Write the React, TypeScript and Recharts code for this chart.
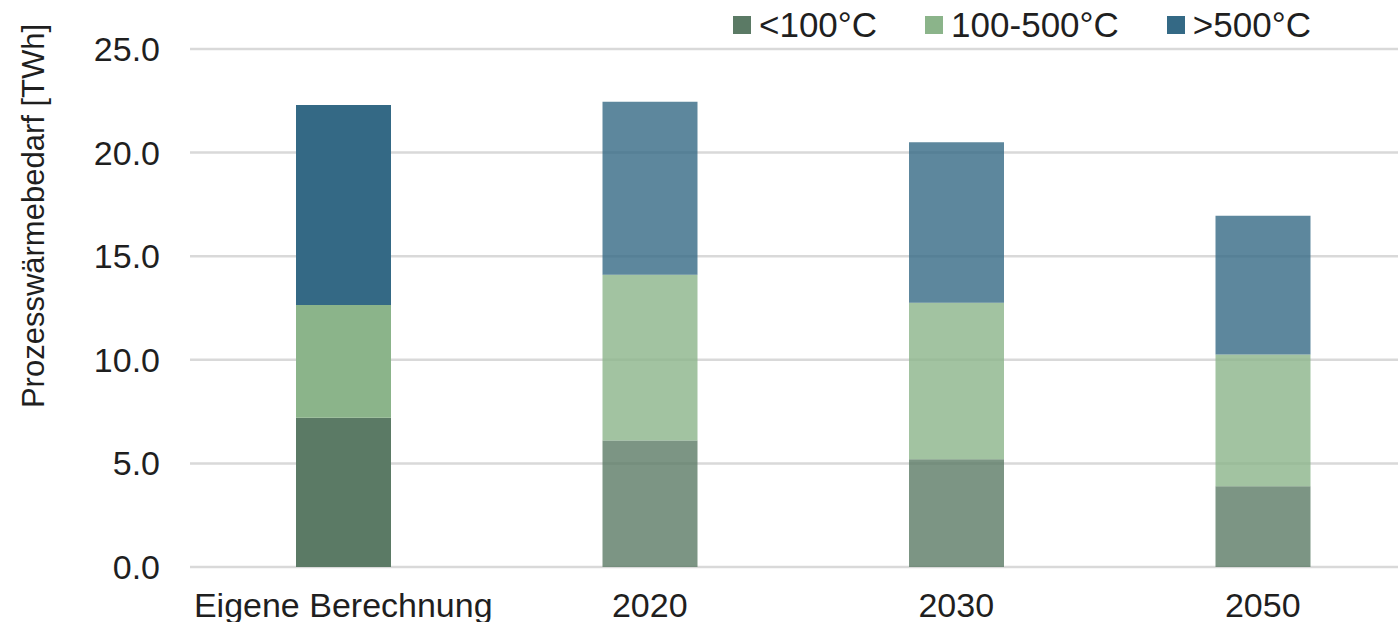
import React from "react";
import { BarChart, Bar, XAxis, YAxis, CartesianGrid, Legend, Cell } from "recharts";

const categories = ["Eigene Berechnung", "2020", "2030", "2050"];
const below100 = [7.2, 6.1, 5.2, 3.9];
const from100to500 = [5.45, 8.0, 7.55, 6.35];
const above500 = [9.65, 8.35, 7.75, 6.7];
const yTicks = [0, 5, 10, 15, 20, 25];

const seriesNames = ["<100°C", "100-500°C", ">500°C"];
const seriesColors = ["#5b7a65", "#8bb48a", "#346985"];

const data = categories.map((name, i) => ({
  name,
  low: below100[i],
  mid: from100to500[i],
  high: above500[i],
}));

const FONT = "'Liberation Sans', Arial, sans-serif";
const TEXT = "#1f1f1f";

// keep the series order instead of the legend's alphabetical sort
const LegendContent = (props: any) => {
  const payload = [...(props.payload || [])].sort(
    (a: any, b: any) => seriesNames.indexOf(a.value) - seriesNames.indexOf(b.value)
  );
  return (
    <div style={{ display: "flex", alignItems: "center", fontFamily: FONT, fontSize: 35, color: TEXT }}>
      {payload.map((entry: any, i: number) => (
        <div key={i} style={{ display: "flex", alignItems: "center", marginRight: i < payload.length - 1 ? 48 : 0 }}>
          <span style={{ display: "inline-block", width: 18, height: 18, background: entry.color, marginRight: 8 }} />
          <span style={{ lineHeight: "40px" }}>{entry.value}</span>
        </div>
      ))}
    </div>
  );
};

const YLabel = () => (
  <text
    x={44}
    y={216}
    transform="rotate(-90, 44, 216)"
    textAnchor="middle"
    fontFamily={FONT}
    fontSize={31}
    fill={TEXT}
  >
    Prozesswärmebedarf [TWh]
  </text>
);

// the first bar is drawn solid, the scenario years slightly transparent
const opacityFor = (i: number) => (i === 0 ? 1 : 0.8);

const App = () => {
  const keys = ["low", "mid", "high"];
  return (
    <div style={{ position: "absolute", left: 0, top: 0, width: 1398, height: 622, overflow: "hidden", background: "#fff" }}>
      <BarChart width={1420} height={622} data={data} margin={{ top: 49, right: 4, left: 0, bottom: 0 }} barSize={95}>
        <CartesianGrid vertical={false} stroke="#d9d9d9" strokeWidth={2.5} />
        <XAxis
          dataKey="name"
          height={55}
          axisLine={false}
          tickLine={false}
          tickSize={0}
          tickMargin={26}
          interval={0}
          tick={{ fontFamily: FONT, fontSize: 34, fill: TEXT }}
        />
        <YAxis
          width={190}
          domain={[0, 25]}
          ticks={yTicks}
          axisLine={false}
          tickLine={false}
          tickSize={0}
          tickMargin={30}
          tickFormatter={(v: number) => v.toFixed(1)}
          tick={{ fontFamily: FONT, fontSize: 34, fill: TEXT }}
          label={<YLabel />}
        />
        <Legend
          layout="horizontal"
          verticalAlign="middle"
          align="center"
          content={<LegendContent />}
          wrapperStyle={{ position: "absolute", top: 5, left: 733, width: "auto" }}
        />
        {keys.map((k, s) => (
          <Bar key={k} dataKey={k} name={seriesNames[s]} stackId="a" fill={seriesColors[s]} isAnimationActive={false}>
            {data.map((_, i) => (
              <Cell key={i} fill={seriesColors[s]} fillOpacity={opacityFor(i)} />
            ))}
          </Bar>
        ))}
      </BarChart>
    </div>
  );
};

export default App;
